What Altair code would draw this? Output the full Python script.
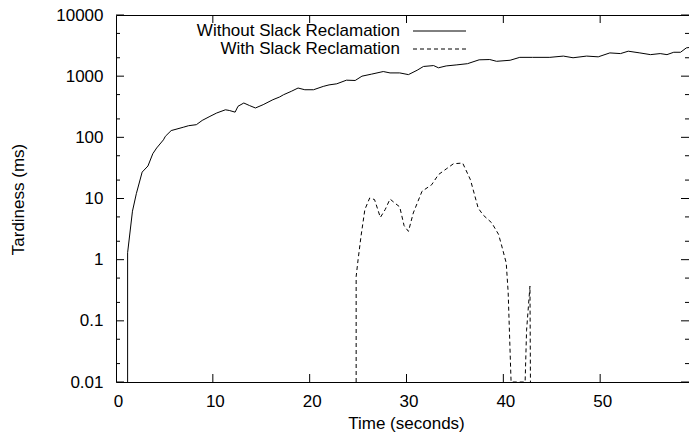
import altair as alt
import pandas as pd

series_names = ["Without Slack Reclamation", "With Slack Reclamation"]

t_without = [1.2, 1.2, 1.7, 2.1, 2.7, 3.3, 3.8, 4.2, 4.9, 5.1, 5.7, 6.3, 7.0, 7.5, 8.3, 8.9,
             9.7, 10.4, 11.3, 11.7, 12.3, 12.6, 13.2, 13.8, 14.4, 15.2, 16.2, 16.9, 17.3,
             18.1, 18.8, 19.5, 20.4, 21.4, 22.0, 22.8, 23.8, 24.7, 25.4, 26.4, 27.6, 28.3,
             29.3, 30.2, 31.1, 31.75, 32.8, 33.3, 34.1, 35.2, 36.3, 37.5, 38.6, 39.3, 40.7,
             41.7, 43.0, 44.8, 46.2, 47.2, 48.6, 49.8, 51.0, 52.1, 52.9, 54.1, 55.2, 56.2,
             56.9, 57.6, 58.3, 58.9, 59.6, 60.0]
v_without = [0.01, 1.3, 6.2, 12, 27, 34, 54, 67, 91, 104, 129, 137, 147, 155, 161, 189,
             220, 250, 282, 275, 258, 322, 364, 330, 302, 342, 412, 457, 497,
             565, 640, 600, 600, 680, 720, 750, 860, 850, 1000, 1080, 1190, 1130,
             1130, 1060, 1250, 1440, 1490, 1370, 1470, 1530, 1600, 1850, 1870, 1750, 1820,
             2030, 2030, 2030, 2130, 2000, 2130, 2070, 2400, 2340, 2560, 2400, 2250, 2340,
             2250, 2460, 2460, 2900, 3000, 2800]

t_with = [24.8, 24.8, 25.0, 25.3, 25.7, 26.2, 26.7, 27.3, 27.8, 28.3, 28.8, 29.3, 29.75,
          30.2, 30.7, 31.6, 32.6, 33.3, 34.1, 34.85, 35.8, 36.6, 37.4, 37.9, 38.8, 39.5,
          39.8, 40.3, 40.5, 40.8, 42.25, 42.4, 42.75, 42.8]
v_with = [0.01, 0.53, 1.0, 2.4, 6.6, 10.2, 9.6, 4.9, 6.6, 9.8, 8.4, 7.3, 3.6,
          2.9, 5.8, 13.1, 16.8, 24.6, 30.4, 37, 38, 20.3, 7.0, 5.4, 4.0, 2.6,
          1.76, 0.88, 0.29, 0.01, 0.01, 0.07, 0.37, 0.01]

x_ticks = [0, 10, 20, 30, 40, 50]
x_inner_ticks = [10, 20, 30, 40, 50]
y_major = [0.01, 0.1, 1, 10, 100, 1000, 10000]
y_minor = [0.02, 0.05, 0.2, 0.5, 2, 5, 20, 50, 200, 500, 2000, 5000]

# the 0..60 axis spans 581 px in the reference; the page only shows up to ~59.2 s
W, H = 573, 367
X_MAX = 60 * W / 581
FONT = "Liberation Sans"
FS = 17
MAJ, MIN = 8, 4
DASH = [4, 3]

xs = alt.Scale(domain=[0, X_MAX], nice=False, zero=False)
ys = alt.Scale(type="log", domain=[0.01, 10000], nice=False)

x_axis = alt.Axis(values=x_ticks, format="d", title="Time (seconds)", grid=False,
                  domain=False, ticks=False, tickSize=0, labelPadding=11, labelOffset=2,
                  labelFont=FONT, labelFontSize=FS, labelColor="black", titleFont=FONT,
                  titleFontSize=FS, titleFontWeight="normal", titleColor="black",
                  titleBaseline="alphabetic", titleY=46, titleX=290, labelFlush=False)
y_axis = alt.Axis(values=y_major, format="~g", title="Tardiness (ms)", grid=False,
                  domain=False, ticks=False, tickSize=0, labelPadding=13, labelFont=FONT,
                  labelFontSize=FS, labelColor="black", titleFont=FONT, titleFontSize=FS,
                  titleFontWeight="normal", titleColor="black", titleBaseline="alphabetic",
                  titleAngle=270, titleX=-93, titleY=184, labelFlush=False)

X = lambda: alt.X("t:Q", scale=xs, axis=x_axis)
Y = lambda: alt.Y("v:Q", scale=ys, axis=y_axis)

df_wo = pd.DataFrame({"t": t_without, "v": v_without, "i": list(range(len(t_without)))})
df_w = pd.DataFrame({"t": t_with, "v": v_with, "i": list(range(len(t_with)))})

solid = alt.Chart(df_wo).mark_line(color="black", strokeWidth=1, clip=True).encode(
    x=X(), y=Y(), order="i:Q")
dashed = alt.Chart(df_w).mark_line(color="black", strokeWidth=1, strokeDash=DASH,
                                   clip=True).encode(x=X(), y=Y(), order="i:Q")

ymaj_df = pd.DataFrame({"v": y_major})
ymin_df = pd.DataFrame({"v": y_minor})
xt_df = pd.DataFrame({"t": x_inner_ticks})


def ytick(df, x0, x1):
    return alt.Chart(df).mark_rule(color="black", strokeWidth=1).encode(
        y=Y(), x=alt.value(x0), x2=alt.value(x1))


def xtick(df, y0, y1):
    return alt.Chart(df).mark_rule(color="black", strokeWidth=1).encode(
        x=X(), y=alt.value(y0), y2=alt.value(y1))


ticks = [
    ytick(ymaj_df, 0, MAJ), ytick(ymaj_df, W - MAJ, W),
    ytick(ymin_df, 0, MIN), ytick(ymin_df, W - MIN, W),
    xtick(xt_df, H - MAJ, H), xtick(xt_df, 0, MAJ),
]

leg1_df = pd.DataFrame({"name": [series_names[0]]})
leg2_df = pd.DataFrame({"name": [series_names[1]]})

leg_text1 = alt.Chart(leg1_df).mark_text(align="right", baseline="middle", font=FONT,
                                         fontSize=FS, color="black").encode(
    text="name:N", x=alt.value(284), y=alt.value(16))
leg_text2 = alt.Chart(leg2_df).mark_text(align="right", baseline="middle", font=FONT,
                                         fontSize=FS, color="black").encode(
    text="name:N", x=alt.value(284), y=alt.value(34))
leg_line1 = alt.Chart(leg1_df).mark_rule(color="black", strokeWidth=1).encode(
    x=alt.value(297), x2=alt.value(350), y=alt.value(16))
leg_line2 = alt.Chart(leg2_df).mark_rule(color="black", strokeWidth=1, strokeDash=DASH).encode(
    x=alt.value(297), x2=alt.value(350), y=alt.value(34))

chart = alt.layer(solid, dashed, *ticks, leg_text1, leg_text2, leg_line1, leg_line2).properties(
    width=W, height=H,
    autosize=alt.AutoSizeParams(type="none"),
    padding={"left": 108, "top": 7, "right": 0, "bottom": 50},
    background="white",
).configure_view(stroke="black", strokeWidth=1)

chart.save("out.html", embed_options={"renderer": "svg", "actions": False})
